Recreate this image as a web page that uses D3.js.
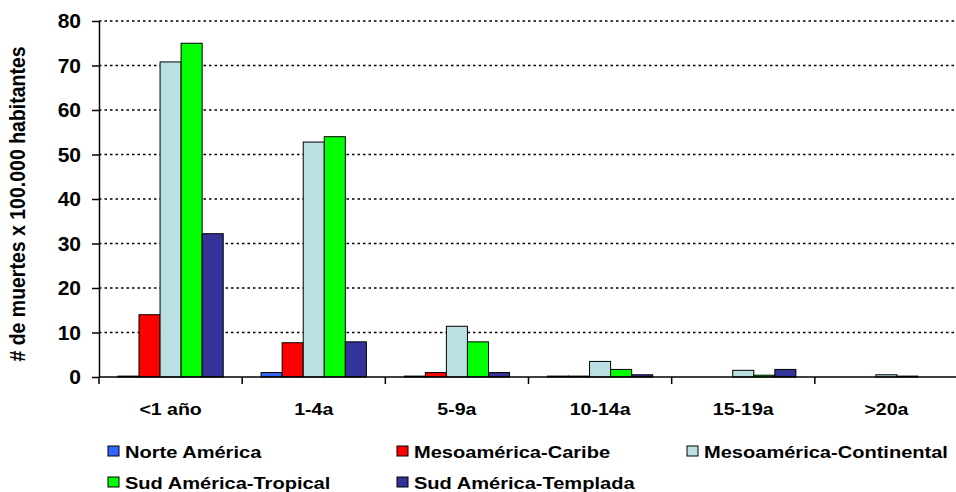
<!DOCTYPE html>
<html>
<head>
<meta charset="utf-8">
<script src="https://cdn.jsdelivr.net/npm/d3@7"></script>
<style>
  body { margin: 0; background: #fff; }
  svg { display: block; font-family: "Liberation Sans", Arial, sans-serif; font-weight: bold; }
</style>
</head>
<body>
<div class="drawingArea"></div>
<script>
// categories (age groups)
var categories = ["<1 año", "1-4a", "5-9a", "10-14a", "15-19a", ">20a"];

// series names
var seriesNames = ["Norte América", "Mesoamérica-Caribe", "Mesoamérica-Continental",
                   "Sud América-Tropical", "Sud América-Templada"];

// values, one array per series
var norteAmerica = [0.2, 1.0, 0.2, 0.2, 0, 0];
var mesoCaribe = [14.0, 7.7, 1.0, 0.2, 0, 0];
var mesoContinental = [70.8, 52.8, 11.4, 3.5, 1.5, 0.5];
var sudTropical = [75.0, 54.0, 7.9, 1.7, 0.4, 0.2];
var sudTemplada = [32.2, 7.9, 1.0, 0.5, 1.7, 0];

var yTicks = [0, 10, 20, 30, 40, 50, 60, 70, 80];

var seriesValues = [norteAmerica, mesoCaribe, mesoContinental, sudTropical, sudTemplada];
var colors = ["#3366ff", "#ff0000", "#bbe0e3", "#00ff00", "#333399"];

var width = 956;
var height = 492;

//plot area (window.top is reserved, so plot* names)
var plotLeft = 99, plotRight = 958, plotTop = 21, plotBottom = 377;

var svg = d3.select(".drawingArea").append("svg:svg")
    .attr("width", width)
    .attr("height", height);

var x0 = d3.scaleBand()
    .domain(categories)
    .range([plotLeft, plotRight])
    .padding(0);

var x1 = d3.scaleBand()
    .domain(seriesNames)
    .range([0, x0.bandwidth()])
    .paddingInner(0)
    .paddingOuter(0.9);

var y = d3.scaleLinear()
    .domain([0, 80])
    .range([plotBottom, plotTop]);

//grid lines (dotted)
svg.append("g")
    .selectAll("line")
    .data(yTicks.filter(function(d) { return d > 0; }))
    .enter().append("line")
    .attr("x1", plotLeft)
    .attr("x2", plotRight)
    .attr("y1", function(d) { return y(d); })
    .attr("y2", function(d) { return y(d); })
    .attr("stroke", "#000")
    .attr("stroke-width", 1.3)
    .attr("stroke-dasharray", "2.5,3");

//bars
var groups = svg.append("g").selectAll("g")
    .data(categories)
    .enter().append("g")
    .attr("transform", function(d) { return "translate(" + x0(d) + ",0)"; });

groups.selectAll("rect")
    .data(function(d, i) {
        return seriesNames.map(function(s, k) {
            return { name: s, value: seriesValues[k][i], color: colors[k] };
        }).filter(function(b) { return b.value > 0; });
    })
    .enter().append("rect")
    .attr("x", function(d) { return x1(d.name); })
    .attr("width", x1.bandwidth())
    .attr("y", function(d) { return y(d.value); })
    .attr("height", function(d) { return y(0) - y(d.value); })
    .attr("fill", function(d) { return d.color; })
    .attr("stroke", "#000")
    .attr("stroke-width", 1);

//y axis
var yAxis = svg.append("g")
    .attr("transform", "translate(" + plotLeft + ",0)")
    .call(d3.axisLeft(y).tickValues(yTicks).tickSize(7).tickPadding(11).tickSizeOuter(0));

yAxis.select(".domain").attr("stroke", "#000").attr("stroke-width", 1.5);
yAxis.selectAll(".tick line").attr("stroke", "#000").attr("stroke-width", 1.5);
yAxis.selectAll(".tick text")
    .attr("font-family", "Liberation Sans, Arial, sans-serif")
    .attr("font-weight", "bold")
    .attr("font-size", 21)
    .attr("fill", "#000");

//x axis line + ticks between categories
svg.append("line")
    .attr("x1", plotLeft)
    .attr("x2", plotRight)
    .attr("y1", y(0))
    .attr("y2", y(0))
    .attr("stroke", "#000")
    .attr("stroke-width", 1.5);

svg.append("g").selectAll("line")
    .data(categories.concat(["end"]))
    .enter().append("line")
    .attr("x1", function(d) { return d === "end" ? plotRight : x0(d); })
    .attr("x2", function(d) { return d === "end" ? plotRight : x0(d); })
    .attr("y1", y(0))
    .attr("y2", y(0) + 7)
    .attr("stroke", "#000")
    .attr("stroke-width", 1.5);

//x labels
svg.append("g").selectAll("text")
    .data(categories)
    .enter().append("text")
    .attr("transform", function(d) {
        return "translate(" + (x0(d) + x0.bandwidth() / 2) + ",415) scale(1.15,1)";
    })
    .attr("text-anchor", "middle")
    .attr("font-size", 17)
    .text(function(d) { return d; });

//y label
svg.append("text")
    .attr("transform", "translate(25,204) rotate(-90) scale(1,1.1)")
    .attr("text-anchor", "middle")
    .attr("font-size", 19.5)
    .text("# de muertes x 100.000 habitantes");

//legend
var legendX = [108, 397, 687];
var legendY = [446, 477];

var legend = svg.append("g").selectAll("g")
    .data(seriesNames)
    .enter().append("g")
    .attr("transform", function(d, i) {
        return "translate(" + legendX[i % 3] + "," + legendY[Math.floor(i / 3)] + ")";
    });

legend.append("rect")
    .attr("width", 11)
    .attr("height", 10)
    .attr("fill", function(d, i) { return colors[i]; })
    .attr("stroke", "#000")
    .attr("stroke-width", 1);

legend.append("text")
    .attr("transform", "translate(17,12) scale(1.18,1)")
    .attr("font-size", 17)
    .text(function(d) { return d; });
</script>
</body>
</html>
